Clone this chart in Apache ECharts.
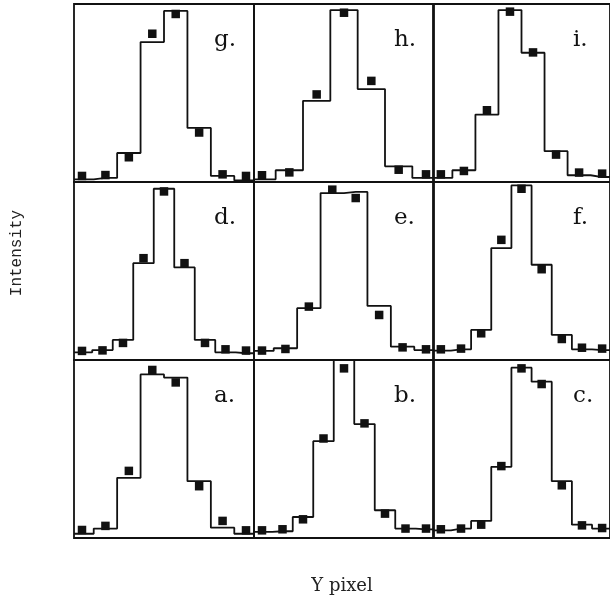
<!DOCTYPE html>
<html>
<head>
<meta charset="utf-8">
<script src="https://cdn.jsdelivr.net/npm/echarts@6/dist/echarts.min.js"></script>
<style>
html, body { margin: 0; padding: 0; background: #fff; }
#main { width: 610px; height: 603px; }
</style>
</head>
<body>
<div id="main"></div>
<script>
// panel labels, in grid order (top row first)
var labels = ['g.', 'h.', 'i.', 'd.', 'e.', 'f.', 'a.', 'b.', 'c.'];

// fitted profile (step line) and measured points per panel
var fitG = [1.5, 2.3, 16.3, 78.6, 96.1, 30.4, 3.4, 0.9];
var ptsG = [3.4, 3.9, 13.9, 83.3, 94.4, 27.8, 4.3, 3.4];
var fitH = [1.5, 6.6, 45.6, 96.6, 52.2, 8.8, 2.3];
var ptsH = [3.8, 5.4, 49.2, 95.1, 56.8, 6.9, 4.3];
var fitI = [2.3, 6.6, 37.9, 96.6, 72.6, 17.3, 3.8, 2.8];
var ptsI = [4.3, 6.2, 40.3, 95.7, 72.8, 15.4, 5.3, 4.7];
var fitD = [4.3, 5.6, 11.3, 54.4, 96.2, 52.0, 11.3, 4.3, 3.8];
var ptsD = [5.1, 5.4, 9.6, 57.2, 94.7, 54.4, 9.6, 6.0, 5.3];
var fitE = [5.1, 6.6, 29.1, 93.8, 94.4, 30.4, 7.5, 5.6];
var ptsE = [5.3, 6.2, 30.0, 95.7, 91.0, 25.3, 7.1, 6.0];
var fitF = [5.3, 6.0, 16.9, 62.9, 98.1, 53.5, 14.1, 6.0, 5.6];
var ptsF = [6.0, 6.4, 15.0, 67.5, 96.2, 51.0, 11.8, 6.9, 6.4];
var fitA = [2.4, 5.3, 33.8, 91.9, 90.1, 31.9, 5.8, 2.4];
var ptsA = [4.5, 6.8, 37.7, 94.4, 87.4, 29.1, 9.6, 4.3];
var fitB = [3.4, 3.8, 11.8, 54.4, 100, 64.0, 15.6, 5.3, 4.9];
var ptsB = [4.3, 4.9, 10.5, 55.9, 95.3, 64.4, 13.7, 5.3, 5.3];
var fitC = [4.3, 5.3, 9.6, 40.0, 95.7, 87.8, 31.9, 7.5, 5.3];
var ptsC = [4.9, 5.3, 7.5, 40.4, 95.3, 86.5, 29.6, 7.1, 5.6];

var fits = [fitG, fitH, fitI, fitD, fitE, fitF, fitA, fitB, fitC];
var pts = [ptsG, ptsH, ptsI, ptsD, ptsE, ptsF, ptsA, ptsB, ptsC];

// layout of the 3x3 panels
var colLeft = [74, 254, 433];
var rowTop = [4, 182, 360];
var panelW = 180, panelH = 178, inner = 8;

var grids = [], xAxes = [], yAxes = [], series = [], texts = [];

for (var k = 0; k < 9; k++) {
	var r = Math.floor(k / 3), c = k % 3;
	var n = pts[k].length;
	var pad = inner * (n - 1) / (panelW - 2 * inner);
	var xmin = -pad, xmax = n - 1 + pad;

	grids.push({
		left: colLeft[c], top: rowTop[r], width: panelW, height: panelH,
		show: true, borderColor: '#111', borderWidth: 1.8, backgroundColor: 'transparent'
	});
	xAxes.push({ type: 'value', gridIndex: k, min: xmin, max: xmax, show: false });
	yAxes.push({ type: 'value', gridIndex: k, min: 0, max: 100, show: false });

	var lineData = [[xmin, fits[k][0]]];
	for (var i = 0; i < n; i++) lineData.push([i, fits[k][i]]);
	lineData.push([xmax, fits[k][n - 1]]);

	var ptData = [];
	for (var j = 0; j < n; j++) ptData.push([j, pts[k][j]]);

	series.push({
		type: 'line', xAxisIndex: k, yAxisIndex: k, step: 'middle',
		data: lineData, showSymbol: false, silent: true,
		lineStyle: { color: '#111', width: 1.8 }
	});
	series.push({
		type: 'scatter', xAxisIndex: k, yAxisIndex: k, data: ptData,
		symbol: 'rect', symbolSize: 8.5, silent: true,
		itemStyle: { color: '#111', opacity: 1 }
	});

	texts.push({
		type: 'text', left: colLeft[c] + 140, top: rowTop[r] + 25,
		style: { text: labels[k], font: '23px "DejaVu Serif"', fill: '#111' }
	});
}

texts.push({
	type: 'text', rotation: Math.PI / 2, x: 17, y: 253,
	style: { text: 'Intensity', font: '16px "Liberation Mono"', fill: '#222', align: 'center', verticalAlign: 'middle' }
});
texts.push({
	type: 'text', x: 342, y: 586,
	style: { text: 'Y pixel', font: '18px "DejaVu Serif"', fill: '#222', align: 'center', verticalAlign: 'middle' }
});

var myChart = echarts.init(document.getElementById('main'));
myChart.setOption({
	backgroundColor: '#fff',
	animation: false,
	grid: grids,
	xAxis: xAxes,
	yAxis: yAxes,
	series: series,
	graphic: texts
});
</script>
</body>
</html>
